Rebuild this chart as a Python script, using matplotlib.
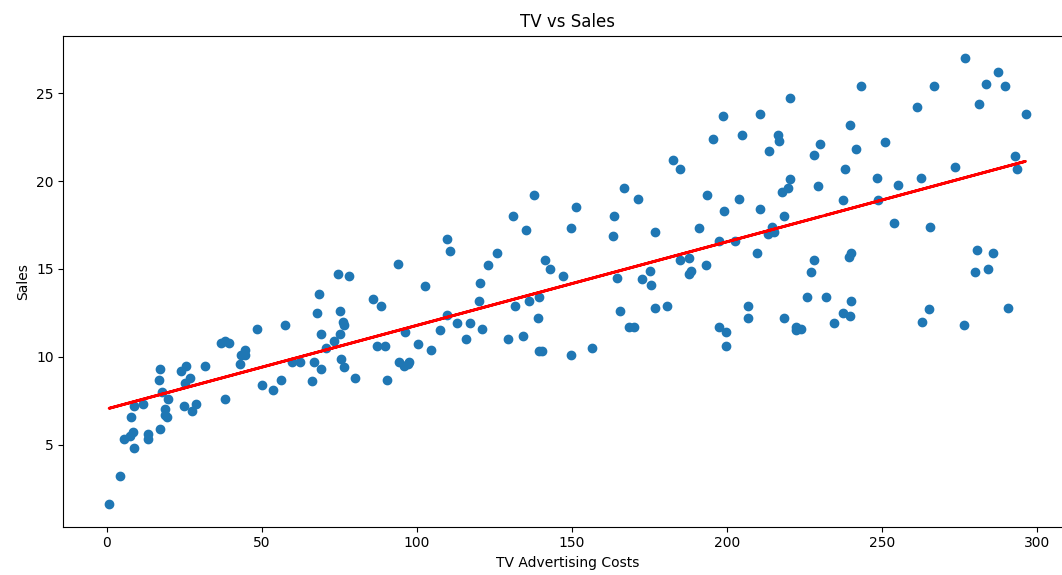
import numpy as np
import matplotlib
matplotlib.use("Agg")
import matplotlib.pyplot as plt

# TV advertising spend and resulting sales (200 markets)
tv = [230.1, 44.5, 17.2, 151.5, 180.8, 8.7, 57.5, 120.2, 8.6, 199.8,
      66.1, 214.7, 23.8, 97.5, 204.1, 195.4, 67.8, 281.4, 69.2, 147.3,
      218.4, 237.4, 13.2, 228.3, 62.3, 262.9, 142.9, 240.1, 248.8, 70.6,
      292.9, 112.9, 97.2, 265.6, 95.7, 290.7, 266.9, 74.7, 43.1, 228.0,
      202.5, 177.0, 293.6, 206.9, 25.1, 175.1, 89.7, 239.9, 227.2, 66.9,
      199.8, 100.4, 216.4, 182.6, 262.7, 198.9, 7.3, 136.2, 210.8, 210.7,
      53.5, 261.3, 239.3, 102.7, 131.1, 69.0, 31.5, 139.3, 237.4, 216.8,
      199.1, 109.8, 26.8, 129.4, 213.4, 16.9, 27.5, 120.5, 5.4, 116.0,
      76.4, 239.8, 75.3, 68.4, 213.5, 193.2, 76.3, 110.7, 88.3, 109.8,
      134.3, 28.6, 217.7, 250.9, 107.4, 163.3, 197.6, 184.9, 289.7, 135.2,
      222.4, 296.4, 280.2, 187.9, 238.2, 137.9, 25.0, 90.4, 13.1, 255.4,
      225.8, 241.7, 175.7, 209.6, 78.2, 75.1, 139.2, 76.4, 125.7, 19.4,
      141.3, 18.8, 224.0, 123.1, 229.5, 87.2, 7.8, 80.2, 220.3, 59.6,
      0.7, 265.2, 8.4, 219.8, 36.9, 48.3, 25.6, 273.7, 43.0, 184.9,
      73.4, 193.7, 220.5, 104.6, 96.2, 140.3, 240.1, 243.2, 38.0, 44.7,
      280.7, 121.0, 197.6, 171.3, 187.8, 4.1, 93.9, 149.8, 11.7, 131.7,
      172.5, 85.7, 188.4, 163.5, 117.2, 234.5, 17.9, 206.8, 215.4, 284.3,
      50.0, 164.5, 19.6, 168.4, 222.4, 276.9, 248.4, 170.2, 276.7, 165.6,
      156.6, 218.5, 56.2, 287.6, 253.8, 205.0, 139.5, 191.1, 286.0, 18.7,
      39.5, 75.5, 17.2, 166.8, 149.7, 38.2, 94.2, 177.0, 283.6, 232.1]

sales = [22.1, 10.4, 9.3, 18.5, 12.9, 7.2, 11.8, 13.2, 4.8, 10.6,
         8.6, 17.4, 9.2, 9.7, 19.0, 22.4, 12.5, 24.4, 11.3, 14.6,
         18.0, 12.5, 5.6, 15.5, 9.7, 12.0, 15.0, 15.9, 18.9, 10.5,
         21.4, 11.9, 9.6, 17.4, 9.5, 12.8, 25.4, 14.7, 10.1, 21.5,
         16.6, 17.1, 20.7, 12.9, 8.5, 14.9, 10.6, 23.2, 14.8, 9.7,
         11.4, 10.7, 22.6, 21.2, 20.2, 23.7, 5.5, 13.2, 23.8, 18.4,
         8.1, 24.2, 15.7, 14.0, 18.0, 9.3, 9.5, 13.4, 18.9, 22.3,
         18.3, 12.4, 8.8, 11.0, 17.0, 8.7, 6.9, 14.2, 5.3, 11.0,
         11.8, 12.3, 11.3, 13.6, 21.7, 15.2, 12.0, 16.0, 12.9, 16.7,
         11.2, 7.3, 19.4, 22.2, 11.5, 16.9, 11.7, 15.5, 25.4, 17.2,
         11.7, 23.8, 14.8, 14.7, 20.7, 19.2, 7.2, 8.7, 5.3, 19.8,
         13.4, 21.8, 14.1, 15.9, 14.6, 12.6, 12.2, 9.4, 15.9, 6.6,
         15.5, 7.0, 11.6, 15.2, 19.7, 10.6, 6.6, 8.8, 24.7, 9.7,
         1.6, 12.7, 5.7, 19.6, 10.8, 11.6, 9.5, 20.8, 9.6, 20.7,
         10.9, 19.2, 20.1, 10.4, 11.4, 10.3, 13.2, 25.4, 10.9, 10.1,
         16.1, 11.6, 16.6, 19.0, 15.6, 3.2, 15.3, 10.1, 7.3, 12.9,
         14.4, 13.3, 14.9, 18.0, 11.9, 11.9, 8.0, 12.2, 17.1, 15.0,
         8.4, 14.5, 7.6, 11.7, 11.5, 27.0, 20.2, 11.7, 11.8, 12.6,
         10.5, 12.2, 8.7, 26.2, 17.6, 22.6, 10.3, 17.3, 15.9, 6.7,
         10.8, 9.9, 5.9, 19.6, 17.3, 7.6, 9.7, 12.8, 25.5, 13.4]

x = np.array(tv)
y = np.array(sales)

# Least-squares fit of sales on TV spend
slope, intercept = np.polyfit(x, y, 1)
y_pred = intercept + slope * x

fig = plt.figure(figsize=(10.62, 5.75), dpi=100)
# The axes run slightly past the right edge of the canvas
ax = fig.add_axes([0.0596, 0.0840, 0.9492, 0.8539])

ax.scatter(x, y)
ax.plot(x, y_pred, color="red", linewidth=2)

ax.set_title("TV vs Sales")
ax.set_xlabel("TV Advertising Costs")
ax.set_ylabel("Sales")

fig.savefig("out.png", dpi=100)
